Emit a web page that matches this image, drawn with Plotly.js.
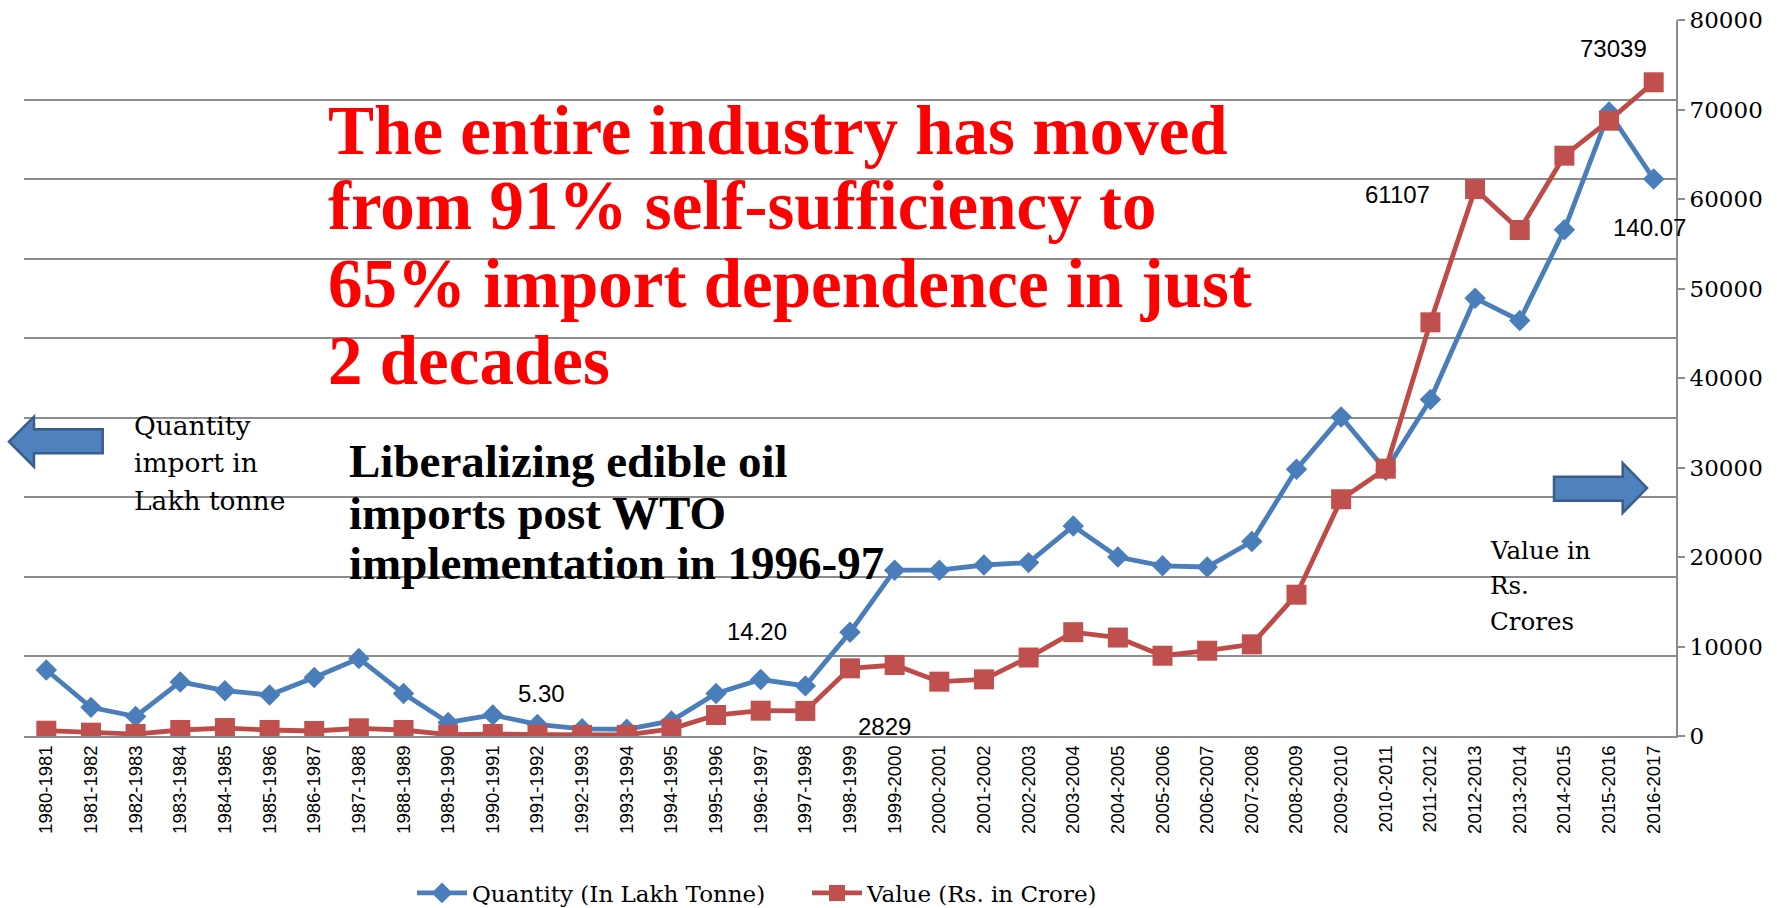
<!DOCTYPE html>
<html>
<head>
<meta charset="utf-8">
<script src="https://cdn.plot.ly/plotly-3.0.1.min.js"></script>
<style>
  html, body { margin: 0; padding: 0; background: #ffffff; }
  #chart { width: 1777px; height: 908px; }
</style>
</head>
<body>
<div id="chart"></div>
<script>
// ---- data ----
const years = [
  "1980-1981","1981-1982","1982-1983","1983-1984","1984-1985","1985-1986","1986-1987",
  "1987-1988","1988-1989","1989-1990","1990-1991","1991-1992","1992-1993","1993-1994",
  "1994-1995","1995-1996","1996-1997","1997-1998","1998-1999","1999-2000","2000-2001",
  "2001-2002","2002-2003","2003-2004","2004-2005","2005-2006","2006-2007","2007-2008",
  "2008-2009","2009-2010","2010-2011","2011-2012","2012-2013","2013-2014","2014-2015",
  "2015-2016","2016-2017"
];
const quantityLakhTonne = [
  16.6, 7.2, 4.9, 13.6, 11.4, 10.3, 14.7, 19.5, 10.7, 3.4, 5.3, 2.9, 1.8, 1.7,
  3.8, 10.7, 14.2, 12.6, 26.1, 41.7, 41.7, 43.0, 43.6, 52.8, 45.0, 42.8, 42.5,
  48.9, 67.1, 80.2, 66.8, 84.6, 110.1, 104.5, 127.3, 156.9, 140.07
];
const valueRsCrore = [
  590, 370, 220, 670, 890, 670, 560, 860, 670, 150, 220, 150, 120, 120,
  800, 2346, 2829, 2800, 7560, 7930, 6070, 6330, 8770, 11600, 11000, 8970, 9530,
  10240, 15790, 26450, 29870, 46220, 61107, 56540, 64840, 68750, 73039
];
const seriesNames = ["Quantity (In Lakh Tonne)", "Value (Rs. in Crore)"];
const dataLabels = ["73039", "61107", "140.07", "5.30", "14.20", "2829"];
const headline = [
  "The entire industry has moved",
  "from 91% self-sufficiency to",
  "65% import dependence in just",
  "2 decades"
];
const wtoNote = ["Liberalizing edible oil", "imports post WTO", "implementation in 1996-97"];
const leftNote = ["Quantity", "import in", "Lakh tonne"];
const rightNote = ["Value in", "Rs.", "Crores"];

// ---- layout helpers (pixel -> paper) ----
const W = 1777, H = 908;
const M = { l: 24, r: 101, t: 20, b: 172 };
const PW = W - M.l - M.r, PH = H - M.t - M.b;
const X = p => (p - M.l) / PW;
const Y = p => 1 - (p - M.t) / PH;

const SERIF = "DejaVu Serif, Liberation Serif, serif";
const BOLDSERIF = "Liberation Serif, DejaVu Serif, serif";
const SANS = "Liberation Sans, Arial, sans-serif";

const traces = [
  {
    x: years, y: quantityLakhTonne, name: seriesNames[0], type: "scatter", mode: "lines+markers",
    yaxis: "y",
    line: { color: "#4A7EBB", width: 4.8 },
    marker: { symbol: "diamond", size: 16.5, color: "#4A7EBB" }
  },
  {
    x: years, y: valueRsCrore, name: seriesNames[1], type: "scatter", mode: "lines+markers",
    yaxis: "y2",
    line: { color: "#BE4B48", width: 4.8 },
    marker: { symbol: "square", size: 20, color: "#C0504D" }
  }
];

const annotations = [];
function addText(text, px, py, opts) {
  annotations.push(Object.assign({
    text: text, xref: "paper", yref: "paper", x: X(px), y: Y(py),
    xanchor: "left", yanchor: "middle", showarrow: false
  }, opts));
}
// headline (red)
const hlBase = [151.7, 226.7, 305, 381.7];
headline.forEach((t, i) => addText("<b>" + t + "</b>", 326, hlBase[i] - 21, {
  font: { family: BOLDSERIF, size: 69, color: "#FF0000" }
}));
// WTO note
const wtoBase = [475, 526.7, 576.7];
wtoNote.forEach((t, i) => addText("<b>" + t + "</b>", 347, wtoBase[i] - 14, {
  font: { family: BOLDSERIF, size: 47, color: "#000000" }
}));
// left axis note
const lnBase = [433.3, 470.7, 508.3];
leftNote.forEach((t, i) => addText(t, 132, lnBase[i] - 8, {
  font: { family: SERIF, size: 26.5, color: "#000000" }
}));
// right axis note
const rnBase = [558.3, 593.3, 629];
rightNote.forEach((t, i) => addText(t, 1488, rnBase[i] - 8, {
  font: { family: SERIF, size: 24.5, color: "#000000" }
}));
// data labels
const dlPos = [[1613, 48], [1397, 195], [1649, 227], [541, 693], [757, 631], [884, 726]];
dataLabels.forEach((t, i) => addText(t, dlPos[i][0], dlPos[i][1], {
  xanchor: "center", font: { family: SANS, size: 24, color: "#000000" }
}));

// arrows
function pathOf(pts) {
  return "M " + pts.map(p => X(p[0]).toFixed(5) + "," + Y(p[1]).toFixed(5)).join(" L ") + " Z";
}
const shapes = [
  {
    type: "path", xref: "paper", yref: "paper",
    path: pathOf([[9, 441.7], [34, 416.7], [34, 429.3], [102.7, 429.3], [102.7, 453.3], [34, 453.3], [34, 466.7]]),
    fillcolor: "#4F81BD", line: { color: "#385D8A", width: 2.5 }
  },
  {
    type: "path", xref: "paper", yref: "paper",
    path: pathOf([[1554, 476.7], [1622.7, 476.7], [1622.7, 463], [1647, 488], [1622.7, 513], [1622.7, 500.7], [1554, 500.7]]),
    fillcolor: "#4F81BD", line: { color: "#385D8A", width: 2.5 }
  }
];

const layout = {
  width: W, height: H,
  margin: M,
  paper_bgcolor: "#ffffff", plot_bgcolor: "#ffffff",
  showlegend: true,
  legend: {
    orientation: "h", xref: "container", yref: "container",
    x: 412 / W, xanchor: "left", y: 1 - 893 / H, yanchor: "middle",
    font: { family: SERIF, size: 23, color: "#000000" },
    itemwidth: 50, entrywidth: 330, entrywidthmode: "pixels",
    bgcolor: "rgba(0,0,0,0)"
  },
  xaxis: {
    type: "category", tickangle: -90, automargin: false,
    tickfont: { family: SANS, size: 18.5, color: "#000000" },
    showline: true, linecolor: "#8c8c8c", linewidth: 2,
    showgrid: false, ticks: "", zeroline: false,
    range: [-0.5, years.length - 0.5]
  },
  yaxis: {
    range: [0, 180.05], dtick: 20, tick0: 0, automargin: false,
    showticklabels: false, ticks: "",
    showgrid: true, gridcolor: "#8c8c8c", gridwidth: 2,
    zeroline: false, showline: false
  },
  yaxis2: {
    overlaying: "y", side: "right", automargin: false,
    range: [0, 80000], dtick: 10000, tick0: 0,
    showgrid: false, zeroline: false,
    showline: true, linecolor: "#8c8c8c", linewidth: 2,
    ticks: "outside", ticklen: 7, tickcolor: "#8c8c8c", tickwidth: 2,
    tickfont: { family: SERIF, size: 23, color: "#000000" },
    tickformat: "d"
  },
  annotations: annotations,
  shapes: shapes
};

Plotly.newPlot("chart", traces, layout, { displayModeBar: false, staticPlot: true });
</script>
</body>
</html>
